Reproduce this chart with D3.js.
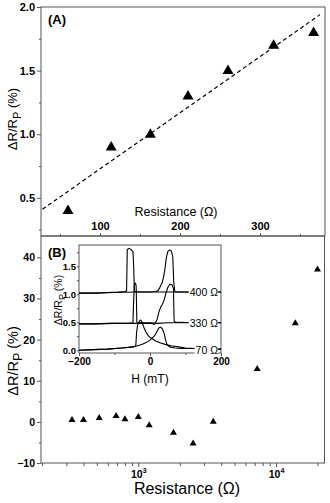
<!DOCTYPE html>
<html><head><meta charset="utf-8">
<script src="https://cdn.jsdelivr.net/npm/d3@7"></script>
<style>
html,body{margin:0;padding:0;background:#fff;}
svg{display:block;}
text{font-family:'Liberation Sans',Arial,Helvetica,sans-serif;fill:#000;}
</style>
</head><body>
<svg id="c" width="330" height="503"></svg>
<script>
// ---------- Panel A data ----------
const resA = [60, 114, 163, 210, 260, 317, 367];
const drA = [0.41, 0.91, 1.01, 1.31, 1.51, 1.71, 1.81];
const fitRes = [28, 375];
const fitDr = [0.41, 1.94];
const xTicksA = [100, 200, 300];
const xMinorA = [50, 150, 250, 350];
const yTicksA = [0.5, 1.0, 1.5, 2.0];
const yMinorA = [0.25, 0.75, 1.25, 1.75];

// ---------- Panel B data ----------
const resB = [330, 400, 520, 690, 800, 1000, 1200, 1800, 2500, 3500, 7300, 13800, 20000];
const drB = [0.7, 0.7, 1.2, 1.7, 0.9, 1.4, -0.6, -2.4, -5.0, 0.3, 13.1, 24.2, 37.3];
const yTicksB = [-10, 0, 10, 20, 30, 40];
const yMinorB = [-5, 5, 15, 25, 35];
const xTicksB = [1000, 10000];
const xTickLabB = ["10", "10"];
const xTickSupB = ["3", "4"];
const xMinorB = [200, 300, 400, 500, 600, 700, 800, 900, 2000, 3000, 4000, 5000, 6000, 7000, 8000, 9000, 20000];

// ---------- Inset data (H in mT, dR/Rp in %) ----------
const t70upH = [-200, -160, -120, -80, -60, -45, -40, -38, -35, -30, -26, -22, -18, -12, -5, 0, 5, 15, 30, 45, 60, 80, 100, 130, 160, 200];
const t70upV = [0.0, 0.01, 0.02, 0.04, 0.05, 0.06, 0.08, 0.3, 0.45, 0.52, 0.54, 0.5, 0.42, 0.33, 0.26, 0.23, 0.21, 0.17, 0.13, 0.1, 0.08, 0.06, 0.04, 0.03, 0.02, 0.02];
const t70dnH = [200, 150, 120, 90, 70, 55, 48, 44, 40, 35, 30, 27, 24, 20, 15, 10, 5, 0, -10, -20, -30, -40, -50, -80, -120, -160, -200];
const t70dnV = [0.02, 0.02, 0.03, 0.03, 0.04, 0.06, 0.1, 0.18, 0.3, 0.38, 0.41, 0.41, 0.39, 0.34, 0.28, 0.24, 0.21, 0.18, 0.14, 0.11, 0.09, 0.07, 0.06, 0.04, 0.02, 0.01, 0.0];
const t330upH = [-200, -160, -120, -90, -60, -48, -46, -44, -41, -39, -37, -20, 0, 20, 50, 80, 110, 150, 200];
const t330upV = [0.47, 0.47, 0.48, 0.48, 0.48, 0.49, 0.9, 1.18, 1.2, 1.15, 0.5, 0.49, 0.49, 0.48, 0.49, 0.49, 0.49, 0.49, 0.49];
const t330dnH = [200, 160, 120, 90, 72, 68, 66, 62, 56, 50, 45, 40, 35, 30, 25, 20, 15, 12, 5, -20, -60, -100, -150, -200];
const t330dnV = [0.49, 0.49, 0.49, 0.5, 0.5, 0.52, 1.1, 1.17, 1.18, 1.12, 1.02, 0.9, 0.82, 0.77, 0.68, 0.55, 0.48, 0.46, 0.48, 0.48, 0.48, 0.48, 0.47, 0.47];
const t400upH = [-200, -160, -120, -90, -70, -66, -64, -58, -52, -48, -46, -44, -30, 0, 40, 80, 120, 160, 200];
const t400upV = [1.02, 1.02, 1.03, 1.04, 1.05, 1.06, 1.8, 1.82, 1.79, 1.76, 1.5, 1.05, 1.04, 1.04, 1.04, 1.04, 1.04, 1.04, 1.04];
const t400dnH = [200, 150, 100, 75, 70, 67, 64, 60, 55, 50, 46, 42, 38, 34, 30, 26, 22, 15, 0, -40, -100, -150, -200];
const t400dnV = [1.04, 1.04, 1.04, 1.04, 1.05, 1.2, 1.68, 1.77, 1.79, 1.76, 1.65, 1.45, 1.3, 1.2, 1.15, 1.1, 1.06, 1.05, 1.04, 1.04, 1.03, 1.02, 1.02];
const curveLabels = ["400 Ω", "330 Ω", "70 Ω"];
const curveLabelV = [1.03, 0.48, 0.0];
const insetXTicks = [-200, 0, 200];
const insetXMinor = [-100, 100];
const insetYTicks = [0.0, 0.5, 1.0, 1.5];
const insetYMinor = [0.25, 0.75, 1.25, 1.75];

// ---------- drawing ----------
const svg = d3.select("#c");
svg.append("rect").attr("width", 330).attr("height", 503).attr("fill", "#fff");
const AX = "#555";

function tri(w, h) { return `M0,${-h/2}L${w/2},${h/2}L${-w/2},${h/2}Z`; }
function styleAxis(g) {
  g.select(".domain").remove();
  g.selectAll(".tick line").attr("stroke", AX);
}

// ===== Panel A =====
const xA = d3.scaleLinear().domain([26.25, 381.25]).range([41, 325]);
const yA = d3.scaleLinear().domain([0.2, 2.0]).range([236, 7]);

svg.append("g").attr("transform", "translate(41,0)")
  .call(d3.axisLeft(yA).tickValues(yMinorA).tickSize(2).tickFormat(""))
  .call(styleAxis);
svg.append("g").attr("transform", "translate(41,0)")
  .call(d3.axisLeft(yA).tickValues(yTicksA).tickSize(4).tickPadding(2).tickFormat(d3.format(".1f")))
  .call(styleAxis)
  .call(g => g.selectAll("text").style("font-size", "11px").style("font-weight", "bold"));
svg.append("g").attr("transform", "translate(0,236)")
  .call(d3.axisTop(xA).tickValues(xMinorA).tickSize(2).tickFormat(""))
  .call(styleAxis);
svg.append("g").attr("transform", "translate(0,236)")
  .call(d3.axisTop(xA).tickValues(xTicksA).tickSize(3).tickPadding(3).tickFormat(d3.format("d")))
  .call(styleAxis)
  .call(g => g.selectAll("text").style("font-size", "11px").style("font-weight", "bold"));

svg.append("rect").attr("x", 41).attr("y", 7).attr("width", 284).attr("height", 229)
  .attr("fill", "none").attr("stroke", AX).attr("stroke-width", 1);

svg.append("defs").append("clipPath").attr("id", "clipA")
  .append("rect").attr("x", 41).attr("y", 7).attr("width", 284).attr("height", 229);

svg.append("path")
  .datum(fitRes.map((r, i) => [r, fitDr[i]]))
  .attr("clip-path", "url(#clipA)")
  .attr("d", d3.line().x(d => xA(d[0])).y(d => yA(d[1])))
  .attr("fill", "none").attr("stroke", "#000").attr("stroke-width", 1.2)
  .attr("stroke-dasharray", "4,3");

svg.append("g").selectAll("path").data(resA).join("path")
  .attr("transform", (d, i) => `translate(${xA(d)},${yA(drA[i])})`)
  .attr("d", tri(11, 9.5)).attr("fill", "#000");

svg.append("text").attr("x", 48).attr("y", 24).text("(A)")
  .style("font-size", "13px").style("font-weight", "bold");
svg.append("text").attr("x", 176).attr("y", 216).attr("text-anchor", "middle")
  .text("Resistance (Ω)").style("font-size", "12.5px");

function ylabel(x, y, size) {
  const t = svg.append("text").attr("transform", `translate(${x},${y}) rotate(-90)`)
    .attr("text-anchor", "middle").style("font-size", size + "px");
  t.append("tspan").text("ΔR/R");
  t.append("tspan").text("P").attr("dy", size * 0.3).style("font-size", (size * 0.85) + "px");
  t.append("tspan").text(" (%)").attr("dy", -size * 0.3);
  return t;
}
ylabel(17, 119, 13);

// ===== Panel B =====
const xB = d3.scaleLog().domain([196.5, 22490]).range([41, 324.5]);
const yB = d3.scaleLinear().domain([-10, 45.2]).range([463, 236]);

svg.append("g").attr("transform", "translate(41,0)")
  .call(d3.axisLeft(yB).tickValues(yMinorB).tickSize(2).tickFormat(""))
  .call(styleAxis);
svg.append("g").attr("transform", "translate(41,0)")
  .call(d3.axisLeft(yB).tickValues(yTicksB).tickSize(4).tickPadding(2).tickFormat(d3.format("d")))
  .call(styleAxis)
  .call(g => g.selectAll("text").style("font-size", "10.5px").style("font-weight", "bold"));
svg.append("g").attr("transform", "translate(0,463)")
  .call(d3.axisBottom(xB).tickValues(xMinorB).tickSize(3).tickFormat(""))
  .call(styleAxis);
const gxB = svg.append("g").attr("transform", "translate(0,463)")
  .call(d3.axisBottom(xB).tickValues(xTicksB).tickSize(4).tickFormat(""))
  .call(styleAxis);
gxB.selectAll(".tick").each(function(d, i) {
  const t = d3.select(this).append("text").attr("y", 15).attr("text-anchor", "middle")
    .style("font-size", "10.5px").style("font-weight", "bold");
  t.append("tspan").text(xTickLabB[i]);
  t.append("tspan").text(xTickSupB[i]).attr("dy", -5).style("font-size", "7px");
});

svg.append("rect").attr("x", 41).attr("y", 236).attr("width", 283.5).attr("height", 227)
  .attr("fill", "none").attr("stroke", AX).attr("stroke-width", 1);

svg.append("g").selectAll("path").data(resB).join("path")
  .attr("transform", (d, i) => `translate(${xB(d)},${yB(drB[i])})`)
  .attr("d", tri(7, 6)).attr("fill", "#000");

svg.append("text").attr("x", 48).attr("y", 257).text("(B)")
  .style("font-size", "13px").style("font-weight", "bold");
svg.append("text").attr("x", 187).attr("y", 494).attr("text-anchor", "middle")
  .text("Resistance (Ω)").style("font-size", "16px");
ylabel(18, 361, 14.5);

// ===== Inset =====
const xI = d3.scaleLinear().domain([-200, 200]).range([79, 221]);
const yI = d3.scaleLinear().domain([-0.05, 1.88]).range([353, 245]);

svg.append("rect").attr("x", 79).attr("y", 245).attr("width", 142).attr("height", 108)
  .attr("fill", "#fff").attr("stroke", AX).attr("stroke-width", 1);

svg.append("g").attr("transform", "translate(79,0)")
  .call(d3.axisLeft(yI).tickValues(insetYMinor.filter(v => v < 1.88)).tickSize(2).tickFormat(""))
  .call(styleAxis);
svg.append("g").attr("transform", "translate(79,0)")
  .call(d3.axisLeft(yI).tickValues(insetYTicks).tickSize(2).tickPadding(1).tickFormat(d3.format(".1f")))
  .call(styleAxis)
  .call(g => g.selectAll("text").style("font-size", "9.5px").style("font-weight", "bold"));
svg.append("g").attr("transform", "translate(0,353)")
  .call(d3.axisBottom(xI).tickValues(insetXMinor).tickSize(2).tickFormat(""))
  .call(styleAxis);
svg.append("g").attr("transform", "translate(0,353)")
  .call(d3.axisBottom(xI).tickValues(insetXTicks).tickSize(3).tickPadding(2).tickFormat(d3.format("d")))
  .call(styleAxis)
  .call(g => g.selectAll("text").style("font-size", "10px").style("font-weight", "bold"));

const traces = [
  [t70upH, t70upV], [t70dnH, t70dnV],
  [t330upH, t330upV], [t330dnH, t330dnV],
  [t400upH, t400upV], [t400dnH, t400dnV]
];
const lineI = d3.line().x(d => xI(d[0])).y(d => yI(d[1]));
svg.append("g").selectAll("path").data(traces).join("path")
  .attr("d", tr => lineI(tr[0].map((h, i) => [h, tr[1][i]])))
  .attr("fill", "none").attr("stroke", "#000").attr("stroke-width", 1.1)
  .attr("stroke-linejoin", "round");

const labG = svg.append("g");
curveLabels.forEach((lab, i) => {
  const t = labG.append("text").attr("x", 218).attr("y", yI(curveLabelV[i]) + 3.5)
    .attr("text-anchor", "end").text(lab).style("font-size", "10.5px");
  const bb = t.node().getBBox();
  labG.insert("rect", "text").attr("x", bb.x - 1).attr("y", bb.y + 1).attr("width", bb.width + 1)
    .attr("height", bb.height - 2).attr("fill", "#fff");
});

svg.append("text").attr("x", 150).attr("y", 383).attr("text-anchor", "middle")
  .text("H (mT)").style("font-size", "12px");
ylabel(62, 300, 10.5);
</script>
</body></html>
